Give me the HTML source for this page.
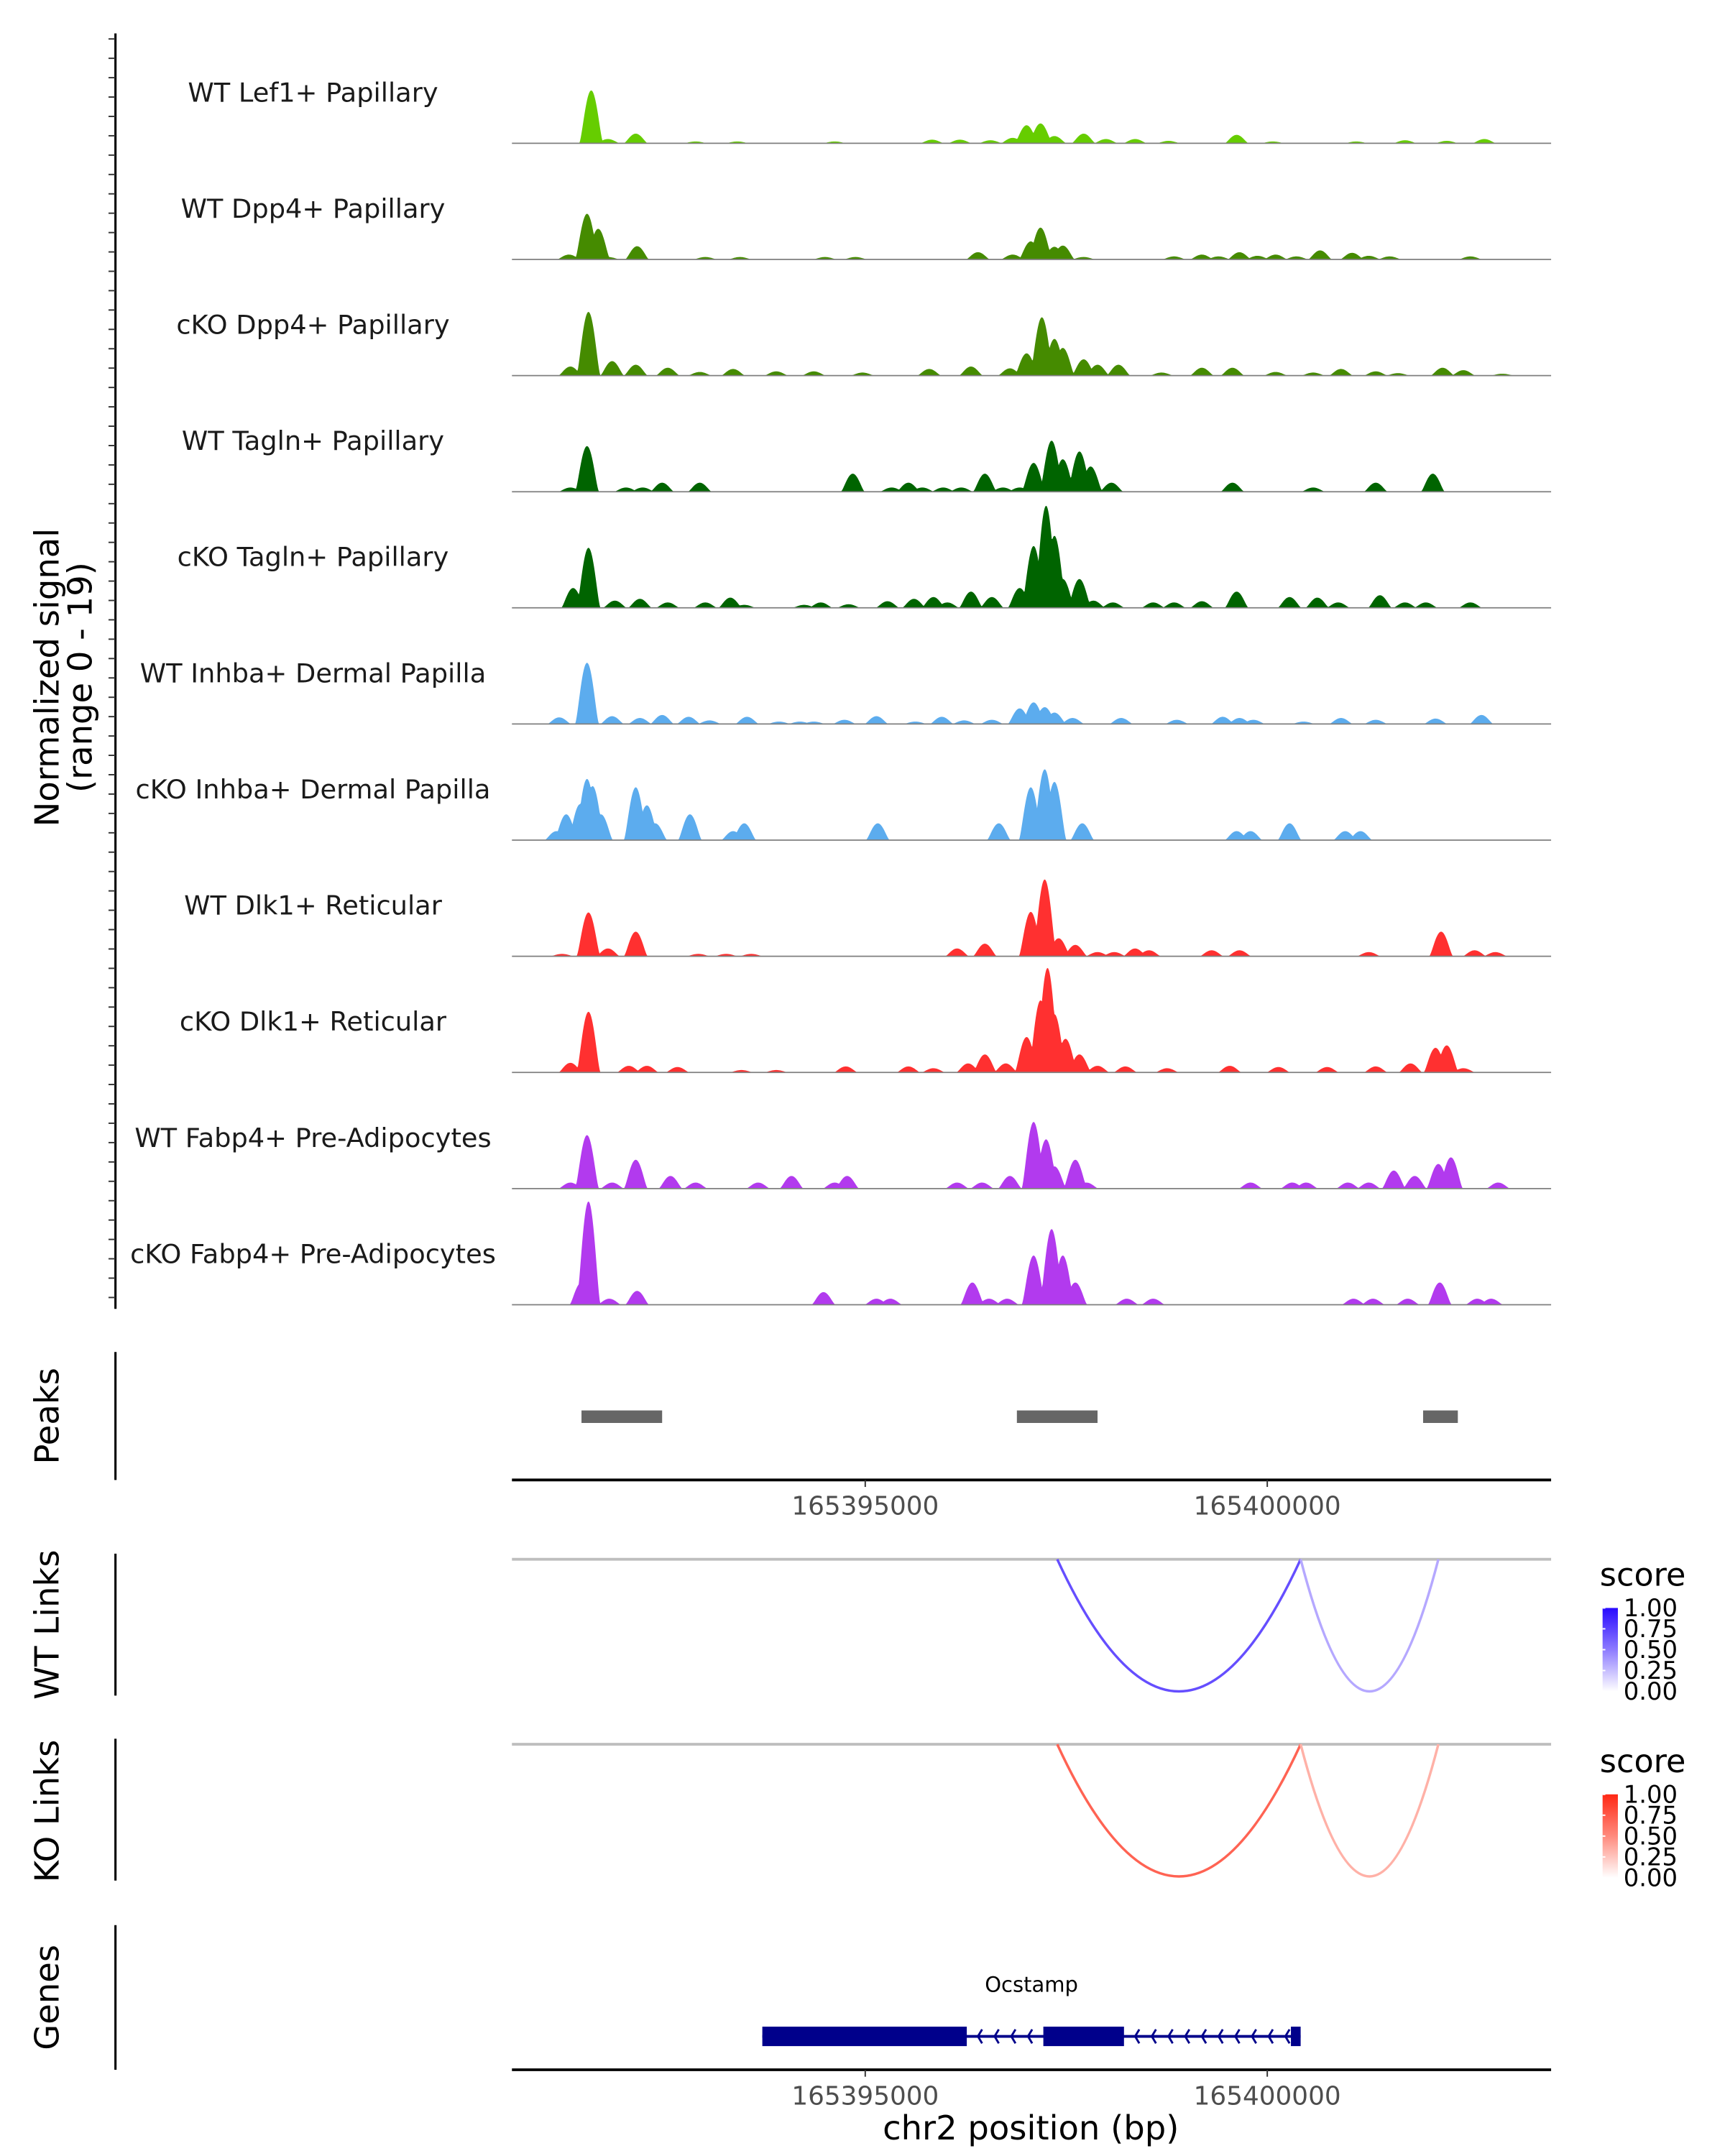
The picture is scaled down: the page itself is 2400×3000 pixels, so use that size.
<!DOCTYPE html>
<html><head><meta charset="utf-8"><style>
html,body{margin:0;padding:0;background:#fff}
svg{display:block}
text{font-family:"DejaVu Sans","Liberation Sans",sans-serif}
</style></head><body>
<svg id="chart" xmlns="http://www.w3.org/2000/svg" width="2400" height="3000" viewBox="0 0 1240 1550">
<rect width="1240" height="1550" fill="#fff"/>
<g id="tracks"></g>
<g id="yaxis"></g>
<text transform="translate(42,487) rotate(-90)" text-anchor="middle" font-size="24" fill="#000">Normalized signal</text>
<text transform="translate(66,487) rotate(-90)" text-anchor="middle" font-size="24" fill="#000">(range 0 - 19)</text>
<g id="peaks"></g>
<g id="links"></g>
<g id="genes"></g>
</svg>
<script>
const regionStart = 165390606;
const regionEnd = 165403530;
const trackNames = ["WT Lef1+ Papillary","WT Dpp4+ Papillary","cKO Dpp4+ Papillary","WT Tagln+ Papillary","cKO Tagln+ Papillary","WT Inhba+ Dermal Papilla","cKO Inhba+ Dermal Papilla","WT Dlk1+ Reticular","cKO Dlk1+ Reticular","WT Fabp4+ Pre-Adipocytes","cKO Fabp4+ Pre-Adipocytes"];
const trackColors = ["#66cd00","#458b00","#458b00","#006400","#006400","#5cacee","#5cacee","#ff3030","#ff3030","#b23aee","#b23aee"];
// peak positions (bp from regionStart) and signal values per track
const pos1 = [986,1194,1540,2284,2803,4014,5225,5571,5951,6228,6401,6574,6747,7110,7387,7750,8166,9013,9463,10501,11107,11626,12093];
const val1 = [8.8,0.7,1.6,0.3,0.3,0.3,0.6,0.6,0.5,0.9,3.0,3.3,1.2,1.6,0.7,0.7,0.4,1.4,0.3,0.3,0.5,0.4,0.7];
const pos2 = [934,1073,709,1194,1557,2405,2837,3893,4273,5796,6228,6453,6574,6747,6851,7110,8235,8581,8788,9048,9273,9498,9757,10051,10449,10657,10916,11920];
const val2 = [7.6,5.1,0.8,0.4,2.2,0.4,0.4,0.4,0.4,1.2,0.8,3.0,5.3,2.1,2.3,0.4,0.5,0.8,0.5,1.2,0.6,0.8,0.5,1.5,1.1,0.6,0.5,0.5];
const pos3 = [952,727,1246,1540,1938,2336,2751,3287,3754,4360,5190,5709,6193,6401,6591,6747,6851,7110,7283,7543,8079,8581,8961,9498,9965,10311,10743,11020,11574,11833,12318];
const val3 = [10.6,1.5,2.4,1.8,1.3,0.6,1.1,0.7,0.7,0.5,1.1,1.5,1.2,3.7,9.7,6.1,4.6,2.7,1.8,1.8,0.5,1.3,1.3,0.6,0.5,1.1,0.7,0.4,1.3,0.9,0.3];
const pos4 = [934,727,1419,1626,1868,2336,4239,4723,4931,5104,5363,5588,5882,6107,6315,6488,6712,6851,7058,7197,7456,8961,9965,10743,11453];
const val4 = [7.6,0.7,0.7,0.7,1.5,1.5,3.0,0.7,1.5,0.7,0.7,0.7,3.0,0.7,0.7,4.8,8.5,5.4,6.7,4.2,1.5,1.5,0.7,1.5,3.0];
const pos5 = [952,761,1280,1592,1938,2405,2716,2889,3633,3841,4187,4671,5000,5242,5415,5709,5969,6315,6488,6643,6747,6851,7058,7231,7474,7975,8235,8581,9013,9671,10017,10276,10795,11107,11366,11920];
const val5 = [10.0,3.3,1.2,1.5,0.9,0.9,1.7,0.5,0.5,0.9,0.6,1.1,1.5,1.8,0.9,2.7,1.8,3.3,10.3,17.0,12.0,4.8,4.8,1.2,0.9,0.9,0.9,1.1,2.7,1.8,1.7,0.9,2.1,0.9,0.9,0.9];
const pos6 = [934,588,1246,1592,1868,2197,2457,2924,3322,3581,3754,4135,4533,5017,5346,5623,5969,6315,6488,6626,6747,6972,7577,8269,8840,9048,9221,9844,10311,10743,11487,12058];
const val6 = [10.2,1.1,1.3,1.0,1.5,1.2,0.6,1.2,0.4,0.4,0.4,0.7,1.3,0.4,1.2,0.6,0.7,2.6,3.6,2.8,1.9,1.0,1.0,0.7,1.2,1.0,0.7,0.4,1.0,0.7,0.9,1.5];
const pos7 = [934,848,1003,675,1107,554,1540,1678,1782,2214,2751,2889,4550,6055,6453,6626,6747,7093,9013,9186,9671,10363,10553];
const val7 = [10.2,6.0,9.0,4.3,4.3,1.5,8.8,5.8,2.8,4.3,1.5,2.8,2.8,2.8,8.8,11.8,9.7,2.8,1.5,1.5,2.8,1.5,1.5];
const pos8 = [952,1194,1540,623,2318,2664,2976,5536,5882,6453,6626,6799,7007,7283,7491,7750,7923,8702,9048,10657,11556,11972,12231];
const val8 = [7.3,1.3,4.1,0.4,0.4,0.4,0.4,1.3,2.1,7.4,12.8,3.0,1.9,0.7,0.7,1.3,1.0,1.0,1.0,0.7,4.1,1.0,0.7];
const pos9 = [952,727,1453,1678,2059,2855,3287,4152,4931,5242,5674,5882,6142,6401,6574,6661,6747,6885,7058,7283,7629,8148,8927,9532,10138,10743,11176,11487,11626,11833];
const val9 = [10.1,1.6,1.1,1.1,0.9,0.4,0.4,1.0,1.0,0.7,1.5,3.0,1.5,5.9,12.0,17.4,9.7,5.6,3.0,1.1,1.0,0.7,1.1,0.9,0.9,1.0,1.5,4.1,4.5,0.7];
const pos10 = [934,727,1246,1540,1972,2284,3062,3477,4014,4169,5536,5847,6193,6488,6643,6747,7007,7145,9186,9705,9878,10397,10657,10968,11228,11522,11678,12266];
const val10 = [8.9,1.0,1.0,4.8,2.1,1.0,1.0,2.1,1.0,2.1,1.0,1.0,2.1,11.1,8.2,3.7,4.8,1.0,1.0,1.0,1.0,1.0,1.0,3.0,2.1,4.1,5.2,1.0];
const pos11 = [952,865,1211,1557,3875,4533,4706,5726,5934,6159,6488,6712,6851,7007,7647,7975,10467,10709,11141,11539,12006,12179];
const val11 = [17.2,3.7,1.0,2.3,2.1,1.0,1.0,3.7,1.0,1.0,8.2,12.6,8.2,3.7,1.0,1.0,1.0,1.0,1.0,3.7,1.0,1.0];
const allPos = [pos1,pos2,pos3,pos4,pos5,pos6,pos7,pos8,pos9,pos10,pos11];
const allVal = [val1,val2,val3,val4,val5,val6,val7,val8,val9,val10,val11];
const yMax = 19;
const peakStarts = [865,6280,11332];
const peakEnds = [1868,7283,11764];
const wtLinkStarts = [6782,9809];
const wtLinkEnds = [9809,11522];
const wtLinkScores = [0.7,0.3];
const koLinkStarts = [6782,9809];
const koLinkEnds = [9809,11522];
const koLinkScores = [0.7,0.3];
const exonStarts = [3114,6609,9688];
const exonEnds = [5657,7612,9809];
const geneStart = 3114, geneEnd = 9809;
const xTicks = [165395000,165400000];
const legendTicks = ["1.00","0.75","0.50","0.25","0.00"];

const NS = "http://www.w3.org/2000/svg";
const X0 = 368, X1 = 1115;
function xs(bp){ return X0 + (bp - regionStart) * (X1 - X0) / (regionEnd - regionStart); }
const trackH = 82, baseTop = 103, gap = 83.5;
function ys(v, base){ return base - v / yMax * trackH; }
function mk(tag, attrs, parent){ const e = document.createElementNS(NS, tag); for (const k in attrs) e.setAttribute(k, attrs[k]); parent.appendChild(e); return e; }

const gT = document.getElementById('tracks');
const halfW = 150;
for (let t = 0; t < 11; t++) {
  const base = baseTop + t * gap;
  const g = mk('g', {}, gT);
  
  
  const lab = mk('text', {x: 225, y: base - 30, 'text-anchor': 'middle', 'font-size': 19, fill: '#1a1a1a'}, g);
  lab.textContent = trackNames[t];
  
  
  let d = 'M' + X0 + ',' + base;
  const P = allPos[t], V = allVal[t];
  for (let px = X0; px <= X1; px += 0.5) {
    const bp = regionStart + (px - X0) * (regionEnd - regionStart) / (X1 - X0);
    let v = 0;
    for (let i = 0; i < P.length; i++) {
      const dd = Math.abs(bp - (regionStart + P[i])) / halfW;
      if (dd < 1) { const s = V[i] * Math.pow(1 - dd * dd, 1.6); if (s > v) v = s; }
    }
    d += 'L' + px + ',' + ys(v, base).toFixed(2);
  }
  d += 'L' + X1 + ',' + base + 'Z';
  const area = mk('path', {d: d, fill: trackColors[t]}, g);
  
  
  const bl = mk('line', {x1: X0, x2: X1, y1: base, y2: base, stroke: '#7f7f7f', 'stroke-width': 0.9}, g);
  
  
}
const gY = document.getElementById('yaxis');
mk('line', {x1: 83, x2: 83, y1: 24, y2: 941, stroke: '#000', 'stroke-width': 1.6}, gY);
for (let y = 28; y <= 941; y += 13.92) mk('line', {x1: 78, x2: 83, y1: y, y2: y, stroke: '#333', 'stroke-width': 1}, gY);

function sideTitle(txt, cy, y1, y2, name){
  const t = mk('text', {transform: 'translate(42,' + cy + ') rotate(-90)', 'text-anchor': 'middle', 'font-size': 24, fill: '#000'}, document.getElementById('chart'));
  t.textContent = txt;
  
  
  mk('line', {x1: 83, x2: 83, y1: y1, y2: y2, stroke: '#000', 'stroke-width': 1.6}, document.getElementById('chart'));
}
const gP = document.getElementById('peaks');
sideTitle('Peaks', 1018, 972, 1064, 'peaks-title');
for (let i = 0; i < peakStarts.length; i++) {
  const r = mk('rect', {x: xs(regionStart + peakStarts[i]), y: 1014, width: xs(regionStart + peakEnds[i]) - xs(regionStart + peakStarts[i]), height: 9, fill: '#666'}, gP);
  
  
}
function xAxis(y, parent){
  mk('line', {x1: X0, x2: X1, y1: y, y2: y, stroke: '#000', 'stroke-width': 2}, parent);
  xTicks.forEach(tk => {
    mk('line', {x1: xs(tk), x2: xs(tk), y1: y, y2: y + 5, stroke: '#333', 'stroke-width': 1}, parent);
    const t = mk('text', {x: xs(tk), y: y + 25, 'text-anchor': 'middle', 'font-size': 18.5, fill: '#4d4d4d'}, parent);
    t.textContent = tk;
    
    
  });
}
xAxis(1064, gP);

const gL = document.getElementById('links');
function mix(c1, c2, s){ return 'rgb(' + c1.map((v, i) => Math.round(v + (c2[i] - v) * s)).join(',') + ')'; }
function linkColor(low, high, s){ return mix(low, high, s); }
function linkPanel(y0, starts, ends, scores, low, high, title, legendY, cy, name){
  sideTitle(title, cy, y0 - 4, y0 + 98, name);
  mk('line', {x1: X0, x2: X1, y1: y0, y2: y0, stroke: '#bebebe', 'stroke-width': 2}, gL);
  for (let i = 0; i < starts.length; i++) {
    const a = xs(regionStart + starts[i]), b = xs(regionStart + ends[i]);
    const depth = 95;
    const m = (a + b) / 2;
    const p = mk('path', {d: 'M' + a + ',' + y0 + ' Q' + m + ',' + (y0 + 2 * depth) + ' ' + b + ',' + y0, fill: 'none', stroke: linkColor(low, high, scores[i]), 'stroke-width': 1.8}, gL);
    
    
  }
  const st = mk('text', {x: 1150, y: legendY, 'font-size': 23, fill: '#000'}, gL);
  st.textContent = 'score';
  
  
  const gid = 'grad' + y0;
  const defs = mk('defs', {}, gL);
  const lg = mk('linearGradient', {id: gid, x1: 0, y1: 1, x2: 0, y2: 0}, defs);
  mk('stop', {offset: '0', 'stop-color': '#fff'}, lg);
  mk('stop', {offset: '0.5', 'stop-color': linkColor(low, high, 0.5)}, lg);
  mk('stop', {offset: '1', 'stop-color': 'rgb(' + high.join(',') + ')'}, lg);
  const cb = mk('rect', {x: 1152, y: legendY + 16, width: 11, height: 60, fill: 'url(#' + gid + ')'}, gL);
  
  
  legendTicks.forEach((lt, i) => {
    const ty = legendY + 16 + i * 15;
    mk('line', {x1: 1152, x2: 1154, y1: ty, y2: ty, stroke: '#fff', 'stroke-width': 1}, gL);
    const t = mk('text', {x: 1167, y: ty + 6, 'font-size': 17.5, fill: '#000'}, gL);
    t.textContent = lt;
    
    
  });
}
linkPanel(1121, wtLinkStarts, wtLinkEnds, wtLinkScores, [242, 236, 255], [40, 10, 255], 'WT Links', 1140, 1168, 'wt-links-title');
linkPanel(1254, koLinkStarts, koLinkEnds, koLinkScores, [255, 236, 230], [255, 40, 20], 'KO Links', 1274, 1302, 'ko-links-title');

const gG = document.getElementById('genes');
sideTitle('Genes', 1436, 1384, 1488, 'genes-title');
const gl = mk('text', {x: xs(regionStart + (geneStart + geneEnd) / 2), y: 1432, 'text-anchor': 'middle', 'font-size': 15, fill: '#000'}, gG);
gl.textContent = 'Ocstamp';


mk('line', {x1: xs(regionStart + geneStart), x2: xs(regionStart + geneEnd), y1: 1464, y2: 1464, stroke: '#00008b', 'stroke-width': 2}, gG);
for (let i = 0; i < exonStarts.length; i++) {
  const r = mk('rect', {x: xs(regionStart + exonStarts[i]), y: 1457, width: xs(regionStart + exonEnds[i]) - xs(regionStart + exonStarts[i]), height: 14, fill: '#00008b'}, gG);
  
  
}
for (let i = 0; i < exonStarts.length - 1; i++) {
  const a = xs(regionStart + exonEnds[i]), b = xs(regionStart + exonStarts[i + 1]);
  for (let x = a + 8; x < b - 3; x += 12) mk('path', {d: 'M' + (x + 3) + ',1459 L' + x + ',1464 L' + (x + 3) + ',1469', fill: 'none', stroke: '#00008b', 'stroke-width': 1.5}, gG);
}
xAxis(1488, gG);
const xt = mk('text', {x: 741, y: 1538, 'text-anchor': 'middle', 'font-size': 24, fill: '#000'}, gG);
xt.textContent = 'chr2 position (bp)';


</script>
</body></html>
